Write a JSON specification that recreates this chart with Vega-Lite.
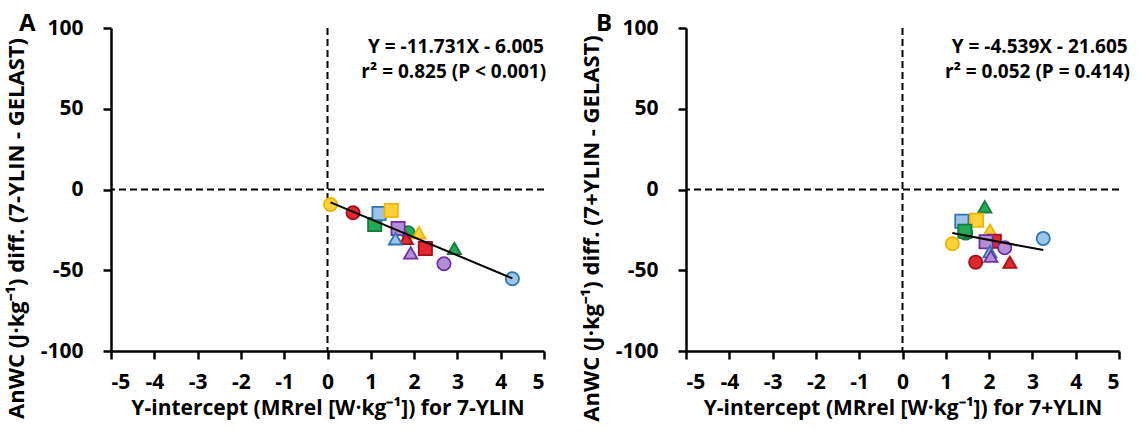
{
  "$schema": "https://vega.github.io/schema/vega-lite/v6.json",
  "padding": {"left": 5, "top": 12, "right": 5, "bottom": 0},
  "background": "white",
  "spacing": 33,
  "datasets": {
    "one": [{}],
    "pa": [
      {"x": 0.07, "y": -9.3, "grp": "yellow", "shp": "circle"},
      {"x": 0.59, "y": -14.4, "grp": "red", "shp": "circle"},
      {"x": 1.09, "y": -21.7, "grp": "green", "shp": "square"},
      {"x": 1.19, "y": -14.9, "grp": "blue", "shp": "square"},
      {"x": 1.47, "y": -13.0, "grp": "yellow", "shp": "square"},
      {"x": 1.86, "y": -26.8, "grp": "green", "shp": "circle"},
      {"x": 1.82, "y": -30.3, "grp": "red", "shp": "triangle"},
      {"x": 1.63, "y": -24.1, "grp": "purple", "shp": "square"},
      {"x": 2.11, "y": -26.8, "grp": "yellow", "shp": "triangle"},
      {"x": 1.57, "y": -30.5, "grp": "blue", "shp": "triangle"},
      {"x": 1.92, "y": -39.2, "grp": "purple", "shp": "triangle"},
      {"x": 2.26, "y": -36.5, "grp": "red", "shp": "square"},
      {"x": 2.93, "y": -36.5, "grp": "green", "shp": "triangle"},
      {"x": 2.69, "y": -46.0, "grp": "purple", "shp": "circle"},
      {"x": 4.27, "y": -55.3, "grp": "blue", "shp": "circle"}
    ],
    "pb": [
      {"x": 1.46, "y": -27.0, "grp": "green", "shp": "circle"},
      {"x": 1.90, "y": -10.7, "grp": "green", "shp": "triangle"},
      {"x": 1.37, "y": -19.6, "grp": "blue", "shp": "square"},
      {"x": 1.71, "y": -19.0, "grp": "yellow", "shp": "square"},
      {"x": 1.44, "y": -25.8, "grp": "green", "shp": "square"},
      {"x": 2.02, "y": -25.2, "grp": "yellow", "shp": "triangle"},
      {"x": 1.15, "y": -33.6, "grp": "yellow", "shp": "circle"},
      {"x": 2.12, "y": -32.0, "grp": "red", "shp": "square"},
      {"x": 1.93, "y": -32.4, "grp": "purple", "shp": "square"},
      {"x": 2.36, "y": -36.1, "grp": "purple", "shp": "circle"},
      {"x": 3.25, "y": -30.3, "grp": "blue", "shp": "circle"},
      {"x": 2.02, "y": -38.5, "grp": "blue", "shp": "triangle"},
      {"x": 2.04, "y": -41.3, "grp": "purple", "shp": "triangle"},
      {"x": 1.69, "y": -45.0, "grp": "red", "shp": "circle"},
      {"x": 2.48, "y": -45.0, "grp": "red", "shp": "triangle"}
    ],
    "la": [{"x": 0.07, "y": -8.0}, {"x": 4.27, "y": -55.0}],
    "lb": [{"x": 1.15, "y": -27.0}, {"x": 3.25, "y": -37.5}]
  },
  "config": {
    "view": {"stroke": null},
    "font": "Open Sans",
    "axis": {
      "domainColor": "black", "domainWidth": 2.5,
      "tickColor": "black", "tickWidth": 2.5, "tickSize": 8,
      "grid": false,
      "labelColor": "black", "labelFontSize": 21, "labelFontWeight": "bold", "labelFont": "Open Sans",
      "labelExpr": "toString(datum.value)",
      "titleColor": "black", "titleFontSize": 22, "titleFontWeight": "bold", "titleFont": "Open Sans"
    },
    "axisX": {"labelPadding": 12, "titlePadding": 5, "titleFontSize": 21},
    "axisY": {"labelPadding": 20, "titlePadding": 12, "titleY": 200}
  },
  "hconcat": [
    {
      "width": 433, "height": 323,
      "layer": [
        {"data": {"name": "one"}, "mark": {"type": "rule", "strokeDash": [7, 4], "strokeWidth": 2, "color": "black"}, "encoding": {"x": {"datum": 0, "type": "quantitative"}}},
        {"data": {"name": "one"}, "mark": {"type": "rule", "strokeDash": [7, 4], "strokeWidth": 2, "color": "black"}, "encoding": {"y": {"datum": 0, "type": "quantitative"}}},
        {
          "data": {"name": "pa"},
          "mark": {"type": "point", "filled": true, "opacity": 1, "size": 175, "strokeWidth": 1.8},
          "encoding": {
            "x": {"field": "x", "type": "quantitative", "scale": {"domain": [-5, 5], "nice": false}, "axis": {"values": [-5,-4,-3,-2,-1,0,1,2,3,4,5], "title": "Y-intercept (MRrel [W·kg⁻¹]) for 7-YLIN"}},
            "y": {"field": "y", "type": "quantitative", "scale": {"domain": [-100, 100], "nice": false}, "axis": {"values": [-100,-50,0,50,100], "title": "AnWC (J·kg⁻¹) diff. (7-YLIN - GELAST)"}},
            "fill": {"field": "grp", "type": "nominal", "legend": null, "scale": {"domain": ["blue","red","green","purple","yellow"], "range": ["#9DC3E6","#E0282E","#22AA55","#B48FD8","#FFD23A"]}},
            "stroke": {"field": "grp", "type": "nominal", "legend": null, "scale": {"domain": ["blue","red","green","purple","yellow"], "range": ["#2E75B6","#A8101A","#157A3A","#7030A0","#F2B400"]}},
            "shape": {"field": "shp", "type": "nominal", "legend": null, "scale": {"domain": ["circle","square","triangle"], "range": ["circle","square","triangle-up"]}}
          }
        },
        {"data": {"name": "la"}, "mark": {"type": "line", "color": "black", "strokeWidth": 2}, "encoding": {"x": {"field": "x", "type": "quantitative"}, "y": {"field": "y", "type": "quantitative"}}},
        {"data": {"name": "one"}, "mark": {"type": "text", "align": "right", "baseline": "middle", "fontSize": 19, "fontWeight": "bold", "font": "Open Sans"}, "encoding": {"x": {"datum": 5, "type": "quantitative"}, "y": {"datum": 88, "type": "quantitative"}, "text": {"value": "Y = -11.731X - 6.005"}}},
        {"data": {"name": "one"}, "mark": {"type": "text", "align": "right", "baseline": "middle", "fontSize": 19, "fontWeight": "bold", "font": "Open Sans"}, "encoding": {"x": {"datum": 5.05, "type": "quantitative"}, "y": {"datum": 72.5, "type": "quantitative"}, "text": {"value": "r² = 0.825 (P < 0.001)"}}},
        {"data": {"name": "one"}, "mark": {"type": "text", "align": "left", "baseline": "alphabetic", "dx": -92, "dy": 3, "fontSize": 24, "fontWeight": "bold", "font": "Open Sans"}, "encoding": {"x": {"datum": -5, "type": "quantitative"}, "y": {"datum": 100, "type": "quantitative"}, "text": {"value": "A"}}}
      ]
    },
    {
      "width": 433, "height": 323,
      "layer": [
        {"data": {"name": "one"}, "mark": {"type": "rule", "strokeDash": [7, 4], "strokeWidth": 2, "color": "black"}, "encoding": {"x": {"datum": 0, "type": "quantitative"}}},
        {"data": {"name": "one"}, "mark": {"type": "rule", "strokeDash": [7, 4], "strokeWidth": 2, "color": "black"}, "encoding": {"y": {"datum": 0, "type": "quantitative"}}},
        {
          "data": {"name": "pb"},
          "mark": {"type": "point", "filled": true, "opacity": 1, "size": 175, "strokeWidth": 1.8},
          "encoding": {
            "x": {"field": "x", "type": "quantitative", "scale": {"domain": [-5, 5], "nice": false}, "axis": {"values": [-5,-4,-3,-2,-1,0,1,2,3,4,5], "title": "Y-intercept (MRrel [W·kg⁻¹]) for 7+YLIN"}},
            "y": {"field": "y", "type": "quantitative", "scale": {"domain": [-100, 100], "nice": false}, "axis": {"values": [-100,-50,0,50,100], "title": "AnWC (J·kg⁻¹) diff. (7+YLIN - GELAST)"}},
            "fill": {"field": "grp", "type": "nominal", "legend": null, "scale": {"domain": ["blue","red","green","purple","yellow"], "range": ["#9DC3E6","#E0282E","#22AA55","#B48FD8","#FFD23A"]}},
            "stroke": {"field": "grp", "type": "nominal", "legend": null, "scale": {"domain": ["blue","red","green","purple","yellow"], "range": ["#2E75B6","#A8101A","#157A3A","#7030A0","#F2B400"]}},
            "shape": {"field": "shp", "type": "nominal", "legend": null, "scale": {"domain": ["circle","square","triangle"], "range": ["circle","square","triangle-up"]}}
          }
        },
        {"data": {"name": "lb"}, "mark": {"type": "line", "color": "black", "strokeWidth": 2}, "encoding": {"x": {"field": "x", "type": "quantitative"}, "y": {"field": "y", "type": "quantitative"}}},
        {"data": {"name": "one"}, "mark": {"type": "text", "align": "right", "baseline": "middle", "fontSize": 19, "fontWeight": "bold", "font": "Open Sans"}, "encoding": {"x": {"datum": 5.2, "type": "quantitative"}, "y": {"datum": 88, "type": "quantitative"}, "text": {"value": "Y = -4.539X - 21.605"}}},
        {"data": {"name": "one"}, "mark": {"type": "text", "align": "right", "baseline": "middle", "fontSize": 19, "fontWeight": "bold", "font": "Open Sans"}, "encoding": {"x": {"datum": 5.25, "type": "quantitative"}, "y": {"datum": 72.5, "type": "quantitative"}, "text": {"value": "r² = 0.052 (P = 0.414)"}}},
        {"data": {"name": "one"}, "mark": {"type": "text", "align": "left", "baseline": "alphabetic", "dx": -90, "dy": 3, "fontSize": 24, "fontWeight": "bold", "font": "Open Sans"}, "encoding": {"x": {"datum": -5, "type": "quantitative"}, "y": {"datum": 100, "type": "quantitative"}, "text": {"value": "B"}}}
      ]
    }
  ]
}
